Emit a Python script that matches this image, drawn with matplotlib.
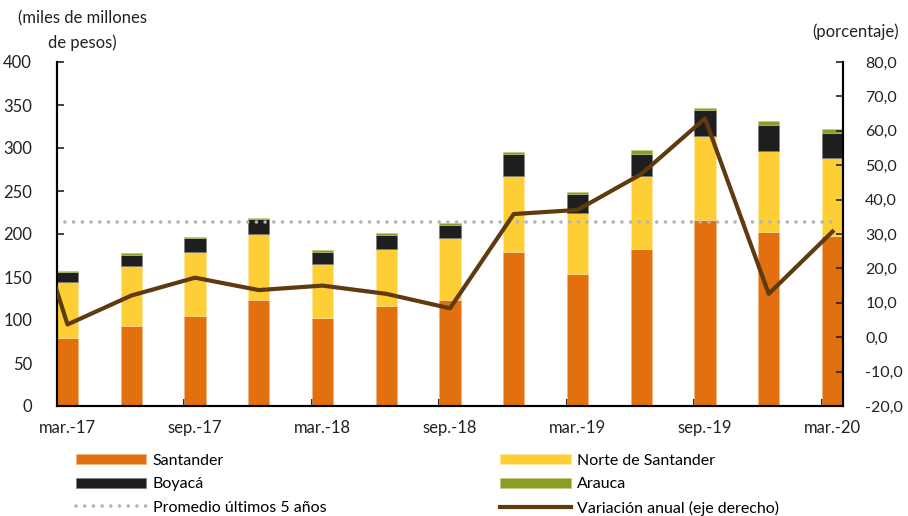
import matplotlib.pyplot as plt
import numpy as np

plt.rcParams['font.family'] = ['Lato', 'DejaVu Sans']

# datos (trimestres mar.-17 a mar.-20)
trimestres = ['mar.-17', 'jun.-17', 'sep.-17', 'dic.-17', 'mar.-18', 'jun.-18', 'sep.-18',
              'dic.-18', 'mar.-19', 'jun.-19', 'sep.-19', 'dic.-19', 'mar.-20']
santander = [79, 93, 105, 123, 102, 116, 123, 179, 153, 183, 216, 202, 198]
norte = [65, 70, 74, 77, 63, 67, 72, 88, 72, 84, 98, 95, 90]
boyaca = [11.5, 13, 16, 17, 14, 16, 16, 26, 21, 26, 30, 30, 30]
arauca = [2, 2, 2, 1.6, 2, 2, 2, 2, 2.5, 4.5, 2.3, 4.5, 4.5]
promedio = 214
# variación anual, el primer valor (dic.-16) queda cortado por el eje
variacion = [62, 3.7, 12.1, 17.3, 13.7, 15.0, 12.6, 8.4, 35.8, 37.0, 47.4, 63.6, 12.6, 30.7]

c_san = '#E3700E'
c_nor = '#FDCF35'
c_boy = '#1E1E1E'
c_ara = '#8A9E25'
c_var = '#5E3A0E'
c_prom = '#B4B4B4'

x = np.arange(len(trimestres))
x_var = np.arange(-1, len(trimestres))
w = 0.33

fig = plt.figure(figsize=(9.08, 5.16), dpi=100)
ax = fig.add_axes([57/908, 110/516, 786/908, 344/516])
ax2 = ax.twinx()

s1 = np.array(santander)
s2 = s1 + np.array(norte)
s3 = s2 + np.array(boyaca)
ax.bar(x, santander, w, color=c_san, edgecolor='#F5B07A', linewidth=0.4, label='Santander', zorder=2)
ax.bar(x, norte, w, bottom=s1, color=c_nor, edgecolor='#FFE9A0', linewidth=0.4, label='Norte de Santander', zorder=2)
ax.bar(x, boyaca, w, bottom=s2, color=c_boy, edgecolor='#777777', linewidth=0.4, label='Boyacá', zorder=2)
ax.bar(x, arauca, w, bottom=s3, color=c_ara, edgecolor='#C0CC80', linewidth=0.4, label='Arauca', zorder=2)
ax.plot(x_var, [promedio] * len(x_var), color=c_prom, linestyle=(0, (0.01, 2.4)), linewidth=2.6,
        dash_capstyle='round', label='Promedio últimos 5 años', zorder=3)

ax2.plot(x_var, variacion, color=c_var, linewidth=3, label='Variación anual (eje derecho)', zorder=4)

ax.set_xlim(-w / 2, len(trimestres) - 1 + w / 2)
ax.set_ylim(0, 400)
ax.set_yticks(np.arange(0, 401, 50))
ax2.set_ylim(-20, 80)
ax2.set_yticks(np.arange(-20, 81, 10))
ax2.set_yticklabels([f'{v:.1f}'.replace('.', ',') for v in np.arange(-20, 81, 10)])

# etiquetas en los centros, marcas en el borde de la barra
ax.set_xticks(x[::2])
ax.set_xticklabels(trimestres[::2])
ax.tick_params(axis='x', length=0, pad=10, labelsize=12, colors='#222222')
ax.set_xticks(x[::2] - w / 2, minor=True)
ax.tick_params(axis='x', which='minor', direction='in', length=5, width=1.2)
ax.tick_params(axis='y', direction='in', length=5, width=1.2, pad=18, labelsize=12, colors='#222222')
ax2.tick_params(axis='y', direction='in', length=5, width=1.2, pad=16, labelsize=11.5, colors='#222222')
for a in (ax, ax2):
    a.spines['top'].set_visible(False)
    for s in ('left', 'right', 'bottom'):
        a.spines[s].set_linewidth(1.5)
ax2.patch.set_visible(False)

fig.text(82/908, 1 - 31/516, '(miles de millones\nde pesos)', ha='center', va='center',
         fontsize=12, color='#222222', linespacing=1.6)
fig.text(899/908, 1 - 32/516, '(porcentaje)', ha='right', va='center', fontsize=12, color='#222222')

h1, l1 = ax.get_legend_handles_labels()
h2, l2 = ax2.get_legend_handles_labels()
hd = dict(zip(l1 + l2, h1 + h2))
orden = ['Santander', 'Boyacá', 'Promedio últimos 5 años',
         'Norte de Santander', 'Arauca', 'Variación anual (eje derecho)']
fig.legend([hd[k] for k in orden], orden, ncol=2, loc='upper left',
           bbox_to_anchor=(68/908, 1 - 446/516), frameon=False, fontsize=11.5,
           handlelength=4.4, handleheight=0.6, handletextpad=0.4, labelspacing=0.58,
           columnspacing=10.9, borderpad=0)

fig.savefig('out.png', dpi=100)
